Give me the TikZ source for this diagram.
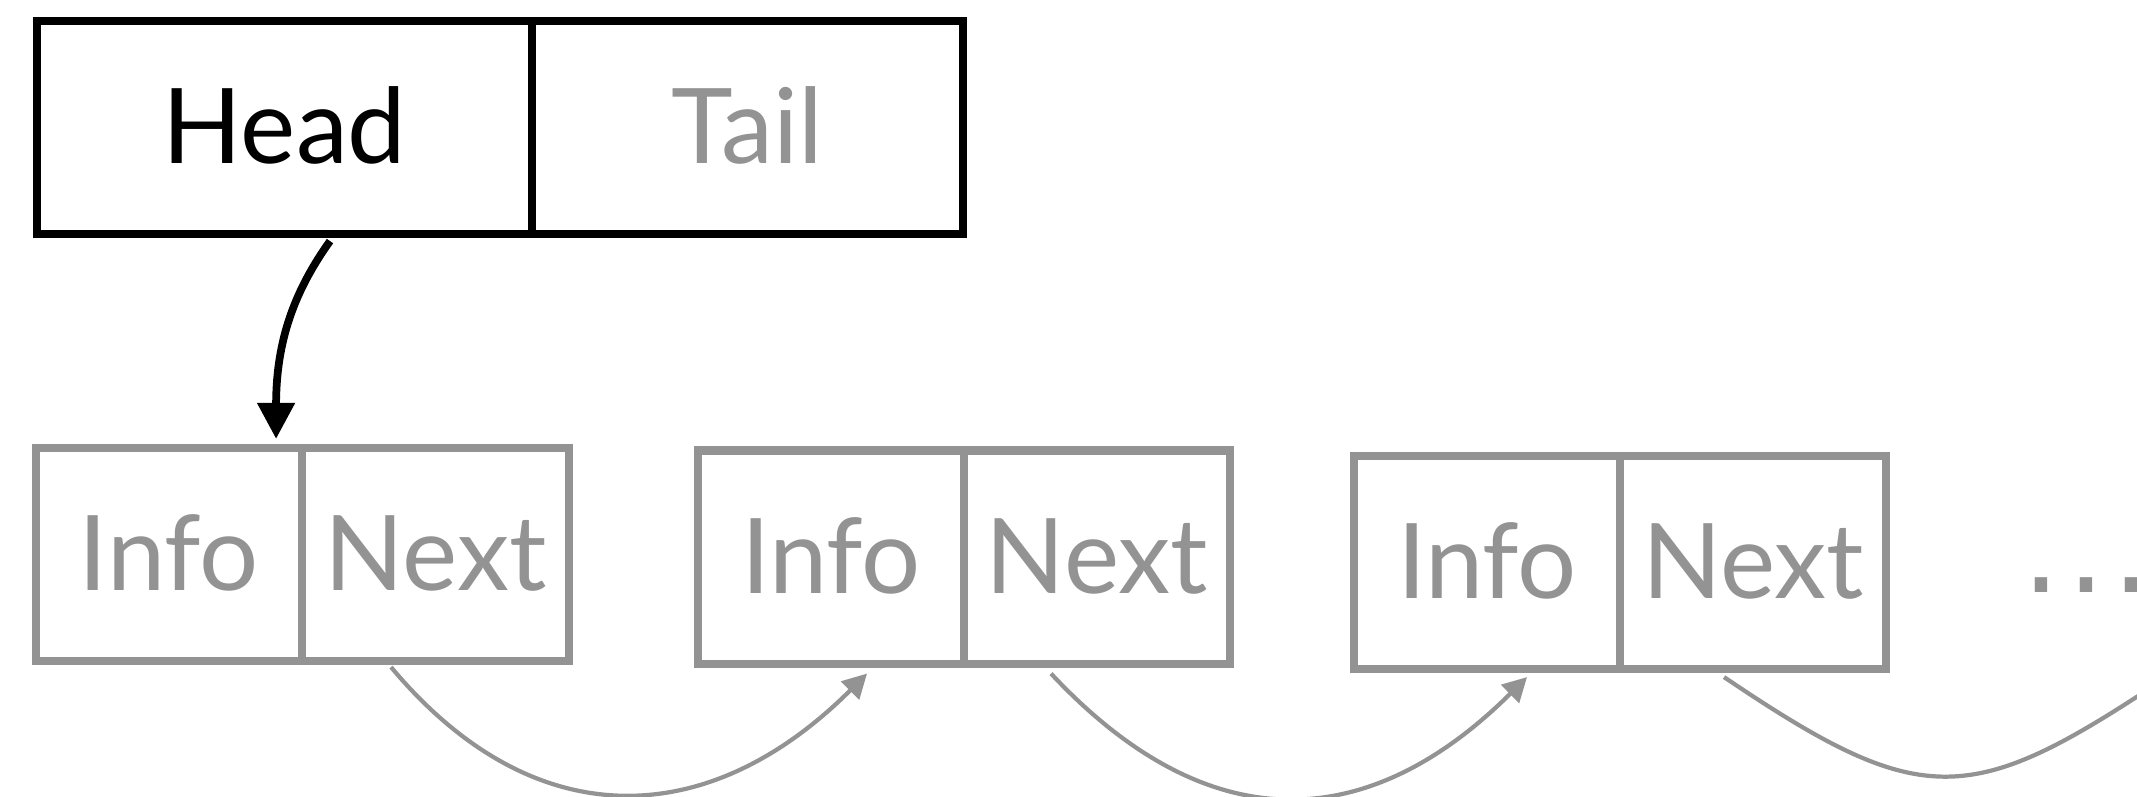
\documentclass[tikz,border=0pt]{standalone}
\usepackage{fontspec}
\setmainfont{Lato}
\newfontfamily\dotfont{DejaVu Sans}
\usetikzlibrary{arrows.meta,calc}
\definecolor{linkgray}{RGB}{147,147,147}
\tikzset{
  cell/.style={draw, rectangle, inner sep=0pt, outer sep=0pt,
    minimum height=2.13cm, text height=0.72cm, text depth=0pt,
    font=\fontsize{29.7}{36}\selectfont},
  listcell/.style={cell, draw=black, line width=2.2pt},
  nodecell/.style={cell, draw=linkgray, text=linkgray, line width=2.3pt, minimum width=2.66cm},
  headptr/.style={-{Triangle[width=0.36cm,length=0.36cm]}, line width=2.2pt, black},
  nextptr/.style={-{Triangle[width=0.25cm,length=0.24cm]}, line width=1.2pt, linkgray},
}
\begin{document}
\begin{tikzpicture}[x=0.01cm,y=-0.01cm]
\useasboundingbox (0,0) rectangle (2137,796);

% list header: head and tail pointers
\node[listcell, minimum width=4.95cm] (head) at (284.5,127.5) {Head};
\node[listcell, minimum width=4.31cm, text=linkgray] (tail) at (747.5,127.5) {Tail};

% list nodes
\node[nodecell] (info1) at (169,554.5) {Info};
\node[nodecell] (next1) at (435.5,554.5) {Next};
\node[nodecell] (info2) at (831,557) {Info};
\node[nodecell] (next2) at (1097,557) {Next};
\node[nodecell] (info3) at (1487,562.5) {Info};
\node[nodecell] (next3) at (1753,562.5) {Next};

% continuation
\node[anchor=base, inner sep=0pt, text=linkgray, font=\dotfont\fontsize{34}{40}\selectfont] (more) at (2086.5,592)
  {\makebox[0.45cm]{.}\makebox[0.45cm]{.}\makebox[0.45cm]{.}};
\coordinate (info4) at (2170,675);

% pointers
\draw[headptr] ($(head.south)+(45.5,7)$) .. controls +(-35,49) and +(0,-99) .. ($(info1.north east)+(-26,-9)$);
\draw[nextptr] ($(next1.south)+(-44.5,6)$) .. controls +(143,171) and +(-158,158) .. ($(info2.south)+(36,10)$);
\draw[nextptr] ($(next2.south)+(-46,10)$) .. controls +(159,170) and +(-157,156) .. ($(info3.south)+(40,8)$);
\draw[nextptr] ($(next3.south)+(-29,8)$) .. controls +(194,131) and +(-202,133) .. (info4);
\end{tikzpicture}
\end{document}
